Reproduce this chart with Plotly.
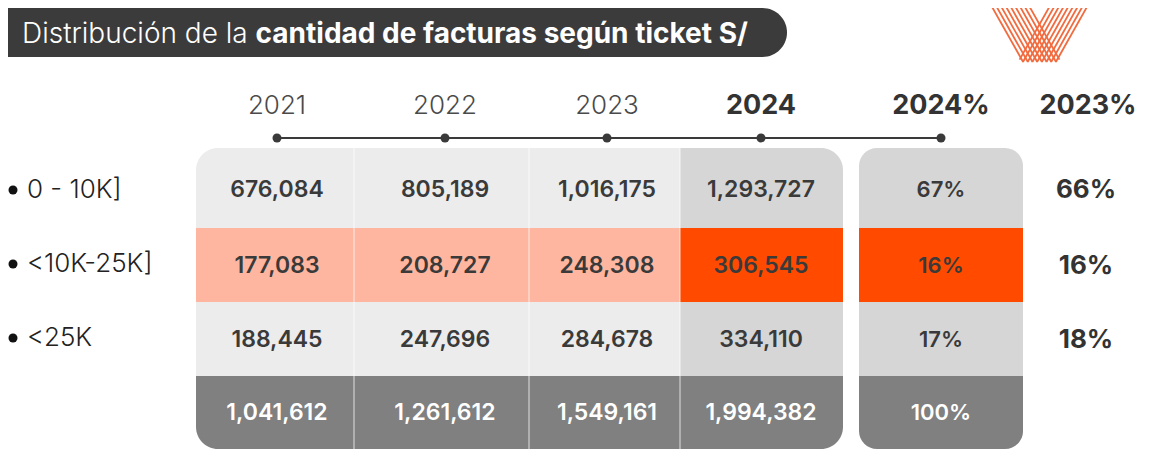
import plotly.graph_objects as go

# datos
years = ["2021", "2022", "2023", "2024"]
ranges = ["0 - 10K]", "<10K-25K]", "<25K"]
v2021 = [676084, 177083, 188445]
v2022 = [805189, 208727, 247696]
v2023 = [1016175, 248308, 284678]
v2024 = [1293727, 306545, 334110]
totals = [1041612, 1261612, 1549161, 1994382]
share_2024 = [67, 16, 17]
share_2024_total = 100
share_2023 = [66, 16, 18]

W, H = 1151, 469
PAD = 8  # margen del body de la pagina
FONT = "Inter"
DARK = "#3a3a3a"

# layout (pixels)
col_x = [277, 445, 607, 761, 941]          # centros de texto + puntos de la linea
col_edges = [196, 354, 529, 680, 843]      # bloque izquierdo
pct_edges = [859, 1023]                    # bloque derecho
row_edges = [148, 228, 302, 376, 449]
row_y = [191, 267, 341, 414]
R = 22

light = ["#ececec", "#ffb6a0", "#ececec", "#808080"]
strong = ["#d6d6d6", "#ff4a00", "#d6d6d6", "#808080"]

K = 0.5523


def rrect(x0, y0, x1, y1, tl=0, tr=0, br=0, bl=0):
    p = f"M {x0 + tl},{y0} L {x1 - tr},{y0} "
    if tr:
        p += f"C {x1 - tr + K * tr},{y0} {x1},{y0 + tr - K * tr} {x1},{y0 + tr} "
    p += f"L {x1},{y1 - br} "
    if br:
        p += f"C {x1},{y1 - br + K * br} {x1 - br + K * br},{y1} {x1 - br},{y1} "
    p += f"L {x0 + bl},{y1} "
    if bl:
        p += f"C {x0 + bl - K * bl},{y1} {x0},{y1 - bl + K * bl} {x0},{y1 - bl} "
    p += f"L {x0},{y0 + tl} "
    if tl:
        p += f"C {x0},{y0 + tl - K * tl} {x0 + tl - K * tl},{y0} {x0 + tl},{y0} "
    return p + "Z"


shapes = []

# barra del titulo
shapes.append(dict(type="path", path=rrect(-40, 8, 787, 57, tr=24.5, br=24.5),
                   fillcolor="#3b3b3b", line=dict(width=0), layer="below"))

# celdas del bloque izquierdo
ncols = len(years)
for r in range(4):
    for c in range(ncols):
        tl = R if (r == 0 and c == 0) else 0
        tr = R if (r == 0 and c == ncols - 1) else 0
        bl = R if (r == 3 and c == 0) else 0
        br = R if (r == 3 and c == ncols - 1) else 0
        color = strong[r] if c == ncols - 1 else light[r]
        shapes.append(dict(type="path",
                           path=rrect(col_edges[c], row_edges[r], col_edges[c + 1] + (0 if c == ncols - 1 else 0.6),
                                      row_edges[r + 1] + (0 if r == 3 else 0.6), tl, tr, br, bl),
                           fillcolor=color, line=dict(width=0), layer="below"))

# separadores verticales
for e in col_edges[1:-1]:
    shapes.append(dict(type="line", x0=e, x1=e, y0=row_edges[0], y1=row_edges[-1],
                       line=dict(color="rgba(255,255,255,0.75)", width=1)))

# bloque de porcentajes
for r in range(4):
    rt = 18 if r == 0 else 0
    rb = 18 if r == 3 else 0
    shapes.append(dict(type="path",
                       path=rrect(pct_edges[0], row_edges[r], pct_edges[1], row_edges[r + 1] + (0 if r == 3 else 0.6),
                                  rt, rt, rb, rb),
                       fillcolor=strong[r], line=dict(width=0), layer="below"))

# linea de tiempo
shapes.append(dict(type="line", x0=col_x[0], x1=col_x[-1], y0=138, y1=138,
                   line=dict(color="#3a3a3a", width=2)))

# logo V
logo_c = "#f26b3f"
step = 4.7
slope = 0.565
for k in range(9):
    xa = 987 + step * k
    yend = min(62, (1092 - xa) / (2 * slope))
    shapes.append(dict(type="line", x0=xa, y0=-2, x1=xa + slope * (yend + 2), y1=yend,
                       line=dict(color=logo_c, width=1.8)))
    xb = 1092 - step * k
    yend = min(62, (xb - 987) / (2 * slope))
    shapes.append(dict(type="line", x0=xb, y0=-2, x1=xb - slope * (yend + 2), y1=yend,
                       line=dict(color=logo_c, width=1.8)))

fig = go.Figure()

# puntos de la linea de tiempo
fig.add_trace(go.Scatter(x=col_x, y=[138] * len(col_x), mode="markers",
                         marker=dict(size=9, color="#3a3a3a"), hoverinfo="skip"))

# encabezados
headers = years + ["2024%", "2023%"]
head_x = col_x + [1088]
for i, h in enumerate(headers):
    bold = h in ("2024", "2024%", "2023%")
    fig.add_trace(go.Scatter(x=[head_x[i]], y=[107], mode="text", text=[h],
                             textfont=dict(family=FONT, size=27 if bold else 26,
                                           color="#333333" if bold else "#4a4a4a",
                                           weight=700 if bold else 300),
                             hoverinfo="skip"))

# valores
series = [v2021, v2022, v2023, v2024]
for c, vals in enumerate(series):
    col_vals = vals + [totals[c]]
    fig.add_trace(go.Scatter(x=[col_x[c]] * 4, y=row_y, mode="text",
                             text=[f"{v:,}" for v in col_vals],
                             textfont=dict(family=FONT, size=23, weight=600,
                                           color=[DARK, DARK, DARK, "white"]),
                             hoverinfo="skip"))

pct_vals = share_2024 + [share_2024_total]
fig.add_trace(go.Scatter(x=[col_x[4]] * 4, y=row_y, mode="text",
                         text=[f"{v}%" for v in pct_vals],
                         textfont=dict(family=FONT, size=22, weight=600,
                                       color=[DARK, DARK, DARK, "white"]),
                         hoverinfo="skip"))

fig.add_trace(go.Scatter(x=[1086] * 3, y=row_y[:3], mode="text",
                         text=[f"{v}%" for v in share_2023],
                         textfont=dict(family=FONT, size=26, weight=700, color="#333333"),
                         hoverinfo="skip"))

# etiquetas de rangos
label_y = [190, 264, 338]
fig.add_trace(go.Scatter(x=[13] * 3, y=label_y, mode="markers",
                         marker=dict(size=9, color="#111111"), hoverinfo="skip"))
fig.add_trace(go.Scatter(x=[27] * 3, y=[v + 1 for v in label_y], mode="text", text=ranges,
                         textposition="middle right",
                         textfont=dict(family=FONT, size=26, weight=300, color="#222222"),
                         hoverinfo="skip"))

fig.add_annotation(x=20, y=33, xref="x", yref="y", xanchor="left", yanchor="middle",
                   text="Distribución de la <b>cantidad de facturas según ticket S/</b>",
                   showarrow=False, font=dict(family=FONT, size=28, color="white", weight=300))

fig.update_layout(
    width=W - 2 * PAD, height=H - 2 * PAD,
    margin=dict(l=0, r=0, t=0, b=0),
    paper_bgcolor="white", plot_bgcolor="white",
    showlegend=False,
    shapes=shapes,
    xaxis=dict(range=[PAD, W - PAD], visible=False, fixedrange=True),
    yaxis=dict(range=[H - PAD, PAD], visible=False, fixedrange=True),
)

fig.write_html("out.html", config={"displayModeBar": False})
